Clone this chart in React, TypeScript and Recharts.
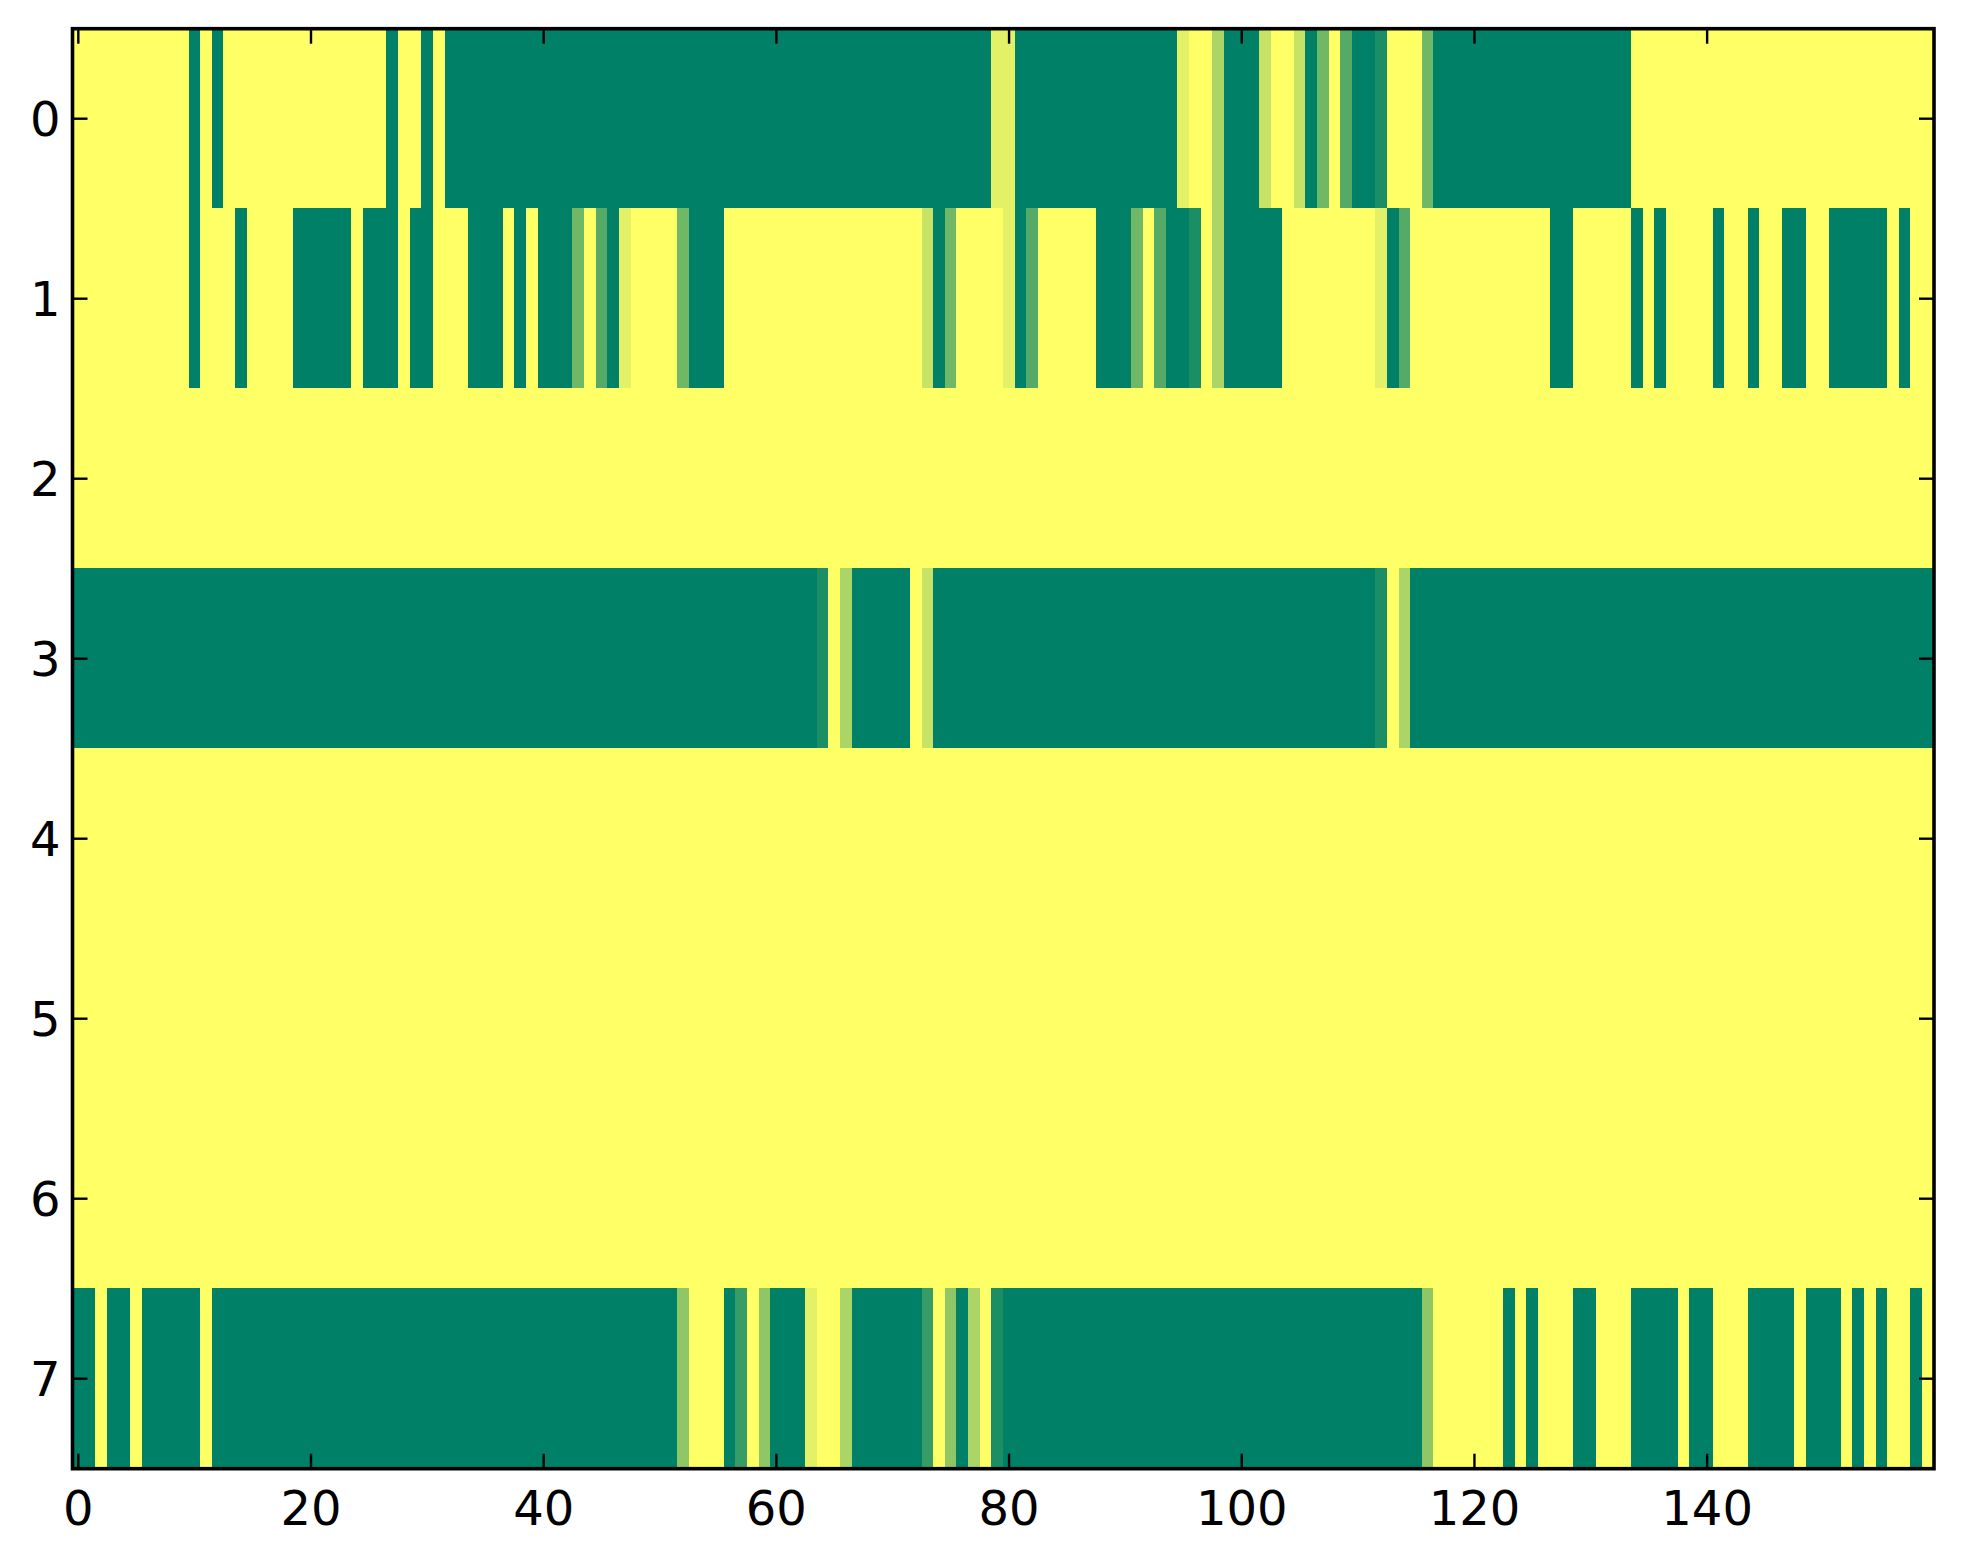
import React from "react";
import { ScatterChart, Scatter, XAxis, YAxis } from "recharts";

// one array per image row, 160 columns each (values 0..1, summer colormap)
const row0 = [
  1, 1, 1, 1, 1, 1, 1, 1, 1, 1, 0, 1, 0, 1, 1, 1, 1, 1, 1, 1,
  1, 1, 1, 1, 1, 1, 1, 0, 1, 1, 0, 1, 0, 0, 0, 0, 0, 0, 0, 0,
  0, 0, 0, 0, 0, 0, 0, 0, 0, 0, 0, 0, 0, 0, 0, 0, 0, 0, 0, 0,
  0, 0, 0, 0, 0, 0, 0, 0, 0, 0, 0, 0, 0, 0, 0, 0, 0, 0, 0, 0.89,
  0.89, 0, 0, 0, 0, 0, 0, 0, 0, 0, 0, 0, 0, 0, 0, 0.89, 1, 1, 0.67, 0,
  0, 0, 0.78, 1, 1, 0.78, 0, 0.44, 1, 0.33, 0, 0, 0.11, 1, 1, 1, 0.44, 0, 0, 0,
  0, 0, 0, 0, 0, 0, 0, 0, 0, 0, 0, 0, 0, 0, 1, 1, 1, 1, 1, 1,
  1, 1, 1, 1, 1, 1, 1, 1, 1, 1, 1, 1, 1, 1, 1, 1, 1, 1, 1, 1,
];
const row1 = [
  1, 1, 1, 1, 1, 1, 1, 1, 1, 1, 0, 1, 1, 1, 0, 1, 1, 1, 1, 0,
  0, 0, 0, 0, 1, 0, 0, 0, 1, 0, 0, 1, 1, 1, 0, 0, 0, 1, 0, 1,
  0, 0, 0, 0.44, 1, 0.33, 0, 0.89, 1, 1, 1, 1, 0.44, 0, 0, 0, 1, 1, 1, 1,
  1, 1, 1, 1, 1, 1, 1, 1, 1, 1, 1, 1, 1, 0.78, 0, 0.44, 1, 1, 1, 1,
  0.89, 0, 0.33, 1, 1, 1, 1, 1, 0, 0, 0, 0.44, 1, 0.33, 0, 0, 0.11, 1, 0.67, 0,
  0, 0, 0, 0, 1, 1, 1, 1, 1, 1, 1, 1, 0.89, 0, 0.33, 1, 1, 1, 1, 1,
  1, 1, 1, 1, 1, 1, 1, 0, 0, 1, 1, 1, 1, 1, 0, 1, 0, 1, 1, 1,
  1, 0, 1, 1, 0, 1, 1, 0, 0, 1, 1, 0, 0, 0, 0, 0, 1, 0, 1, 1,
];
const row2 = [
  1, 1, 1, 1, 1, 1, 1, 1, 1, 1, 1, 1, 1, 1, 1, 1, 1, 1, 1, 1,
  1, 1, 1, 1, 1, 1, 1, 1, 1, 1, 1, 1, 1, 1, 1, 1, 1, 1, 1, 1,
  1, 1, 1, 1, 1, 1, 1, 1, 1, 1, 1, 1, 1, 1, 1, 1, 1, 1, 1, 1,
  1, 1, 1, 1, 1, 1, 1, 1, 1, 1, 1, 1, 1, 1, 1, 1, 1, 1, 1, 1,
  1, 1, 1, 1, 1, 1, 1, 1, 1, 1, 1, 1, 1, 1, 1, 1, 1, 1, 1, 1,
  1, 1, 1, 1, 1, 1, 1, 1, 1, 1, 1, 1, 1, 1, 1, 1, 1, 1, 1, 1,
  1, 1, 1, 1, 1, 1, 1, 1, 1, 1, 1, 1, 1, 1, 1, 1, 1, 1, 1, 1,
  1, 1, 1, 1, 1, 1, 1, 1, 1, 1, 1, 1, 1, 1, 1, 1, 1, 1, 1, 1,
];
const row3 = [
  0, 0, 0, 0, 0, 0, 0, 0, 0, 0, 0, 0, 0, 0, 0, 0, 0, 0, 0, 0,
  0, 0, 0, 0, 0, 0, 0, 0, 0, 0, 0, 0, 0, 0, 0, 0, 0, 0, 0, 0,
  0, 0, 0, 0, 0, 0, 0, 0, 0, 0, 0, 0, 0, 0, 0, 0, 0, 0, 0, 0,
  0, 0, 0, 0, 0.11, 1, 0.67, 0, 0, 0, 0, 0, 1, 0.78, 0, 0, 0, 0, 0, 0,
  0, 0, 0, 0, 0, 0, 0, 0, 0, 0, 0, 0, 0, 0, 0, 0, 0, 0, 0, 0,
  0, 0, 0, 0, 0, 0, 0, 0, 0, 0, 0, 0, 0.11, 1, 0.67, 0, 0, 0, 0, 0,
  0, 0, 0, 0, 0, 0, 0, 0, 0, 0, 0, 0, 0, 0, 0, 0, 0, 0, 0, 0,
  0, 0, 0, 0, 0, 0, 0, 0, 0, 0, 0, 0, 0, 0, 0, 0, 0, 0, 0, 0,
];
const row4 = [
  1, 1, 1, 1, 1, 1, 1, 1, 1, 1, 1, 1, 1, 1, 1, 1, 1, 1, 1, 1,
  1, 1, 1, 1, 1, 1, 1, 1, 1, 1, 1, 1, 1, 1, 1, 1, 1, 1, 1, 1,
  1, 1, 1, 1, 1, 1, 1, 1, 1, 1, 1, 1, 1, 1, 1, 1, 1, 1, 1, 1,
  1, 1, 1, 1, 1, 1, 1, 1, 1, 1, 1, 1, 1, 1, 1, 1, 1, 1, 1, 1,
  1, 1, 1, 1, 1, 1, 1, 1, 1, 1, 1, 1, 1, 1, 1, 1, 1, 1, 1, 1,
  1, 1, 1, 1, 1, 1, 1, 1, 1, 1, 1, 1, 1, 1, 1, 1, 1, 1, 1, 1,
  1, 1, 1, 1, 1, 1, 1, 1, 1, 1, 1, 1, 1, 1, 1, 1, 1, 1, 1, 1,
  1, 1, 1, 1, 1, 1, 1, 1, 1, 1, 1, 1, 1, 1, 1, 1, 1, 1, 1, 1,
];
const row5 = [
  1, 1, 1, 1, 1, 1, 1, 1, 1, 1, 1, 1, 1, 1, 1, 1, 1, 1, 1, 1,
  1, 1, 1, 1, 1, 1, 1, 1, 1, 1, 1, 1, 1, 1, 1, 1, 1, 1, 1, 1,
  1, 1, 1, 1, 1, 1, 1, 1, 1, 1, 1, 1, 1, 1, 1, 1, 1, 1, 1, 1,
  1, 1, 1, 1, 1, 1, 1, 1, 1, 1, 1, 1, 1, 1, 1, 1, 1, 1, 1, 1,
  1, 1, 1, 1, 1, 1, 1, 1, 1, 1, 1, 1, 1, 1, 1, 1, 1, 1, 1, 1,
  1, 1, 1, 1, 1, 1, 1, 1, 1, 1, 1, 1, 1, 1, 1, 1, 1, 1, 1, 1,
  1, 1, 1, 1, 1, 1, 1, 1, 1, 1, 1, 1, 1, 1, 1, 1, 1, 1, 1, 1,
  1, 1, 1, 1, 1, 1, 1, 1, 1, 1, 1, 1, 1, 1, 1, 1, 1, 1, 1, 1,
];
const row6 = [
  1, 1, 1, 1, 1, 1, 1, 1, 1, 1, 1, 1, 1, 1, 1, 1, 1, 1, 1, 1,
  1, 1, 1, 1, 1, 1, 1, 1, 1, 1, 1, 1, 1, 1, 1, 1, 1, 1, 1, 1,
  1, 1, 1, 1, 1, 1, 1, 1, 1, 1, 1, 1, 1, 1, 1, 1, 1, 1, 1, 1,
  1, 1, 1, 1, 1, 1, 1, 1, 1, 1, 1, 1, 1, 1, 1, 1, 1, 1, 1, 1,
  1, 1, 1, 1, 1, 1, 1, 1, 1, 1, 1, 1, 1, 1, 1, 1, 1, 1, 1, 1,
  1, 1, 1, 1, 1, 1, 1, 1, 1, 1, 1, 1, 1, 1, 1, 1, 1, 1, 1, 1,
  1, 1, 1, 1, 1, 1, 1, 1, 1, 1, 1, 1, 1, 1, 1, 1, 1, 1, 1, 1,
  1, 1, 1, 1, 1, 1, 1, 1, 1, 1, 1, 1, 1, 1, 1, 1, 1, 1, 1, 1,
];
const row7 = [
  0, 0, 1, 0, 0, 1, 0, 0, 0, 0, 0, 1, 0, 0, 0, 0, 0, 0, 0, 0,
  0, 0, 0, 0, 0, 0, 0, 0, 0, 0, 0, 0, 0, 0, 0, 0, 0, 0, 0, 0,
  0, 0, 0, 0, 0, 0, 0, 0, 0, 0, 0, 0, 0.56, 1, 1, 1, 0, 0.22, 1, 0.56,
  0, 0, 0, 0.89, 1, 1, 0.67, 0, 0, 0, 0, 0, 0, 0.22, 1, 0.56, 0, 0.67, 1, 0.11,
  0, 0, 0, 0, 0, 0, 0, 0, 0, 0, 0, 0, 0, 0, 0, 0, 0, 0, 0, 0,
  0, 0, 0, 0, 0, 0, 0, 0, 0, 0, 0, 0, 0, 0, 0, 0, 0.56, 1, 1, 1,
  1, 1, 1, 0, 1, 0, 1, 1, 1, 0, 0, 1, 1, 1, 0, 0, 0, 0, 1, 0,
  0, 1, 1, 1, 0, 0, 0, 0, 1, 0, 0, 0, 1, 0, 1, 0, 1, 1, 0, 1,
];

const rows = [row0, row1, row2, row3, row4, row5, row6, row7];
const xTicks = [0, 20, 40, 60, 80, 100, 120, 140];
const yTicks = [0, 1, 2, 3, 4, 5, 6, 7];

const W = 1950;
const H = 1550;
const PLOT_LEFT = 64.5;
const PLOT_TOP = 20.7;
const PLOT_W = 1861.5;
const PLOT_H = 1440;
const X_AXIS_H = 60;
const NCOLS = 160;
const NROWS = 8;
const CELL_W = PLOT_W / NCOLS;
const CELL_H = PLOT_H / NROWS;
const TICK = 15;
const FONT = "'DejaVu Sans', sans-serif";

// matplotlib "summer": r = v, g = 0.5 + v/2, b = 0.4
function summer(v: number) {
  const r = Math.round(255 * v);
  const g = Math.round(255 * (0.5 + 0.5 * v));
  return `rgb(${r},${g},102)`;
}

const cells = rows.flatMap((row, r) => row.map((v, c) => ({ x: c, y: r, v })));

function CellShape(props: any) {
  const { cx, cy, payload } = props;
  return (
    <rect
      x={cx - CELL_W / 2 - 0.3}
      y={cy - CELL_H / 2 - 0.3}
      width={CELL_W + 0.6}
      height={CELL_H + 0.6}
      fill={summer(payload.v)}
      shapeRendering="crispEdges"
    />
  );
}

function XTick(props: any) {
  const { x, y, payload } = props;
  return (
    <g>
      {payload.value === 0 && (
        // the axes frame, hung off the first tick (column 0 centre)
        <rect x={x - CELL_W / 2} y={y - PLOT_H} width={PLOT_W} height={PLOT_H} fill="none" stroke="#000" strokeWidth={3.6} />
      )}
      <line x1={x} y1={y} x2={x} y2={y - TICK} stroke="#000" strokeWidth={2.4} />
      <line x1={x} y1={y - PLOT_H} x2={x} y2={y - PLOT_H + TICK} stroke="#000" strokeWidth={2.4} />
      <text x={x} y={y + 22} dy="0.71em" textAnchor="middle" fontSize={48} fontFamily={FONT} fill="#000">
        {payload.value}
      </text>
    </g>
  );
}

function YTick(props: any) {
  const { x, y, payload } = props;
  return (
    <g>
      <line x1={x} y1={y} x2={x + TICK} y2={y} stroke="#000" strokeWidth={2.4} />
      <line x1={x + PLOT_W} y1={y} x2={x + PLOT_W - TICK} y2={y} stroke="#000" strokeWidth={2.4} />
      <text x={x - 12} y={y} dy="0.355em" textAnchor="end" fontSize={48} fontFamily={FONT} fill="#000">
        {payload.value}
      </text>
    </g>
  );
}

export default function App() {
  return (
    <div>
      <ScatterChart
        width={W}
        height={H}
        margin={{ top: PLOT_TOP, right: W - PLOT_LEFT - PLOT_W, bottom: H - PLOT_TOP - PLOT_H - X_AXIS_H, left: 0 }}
      >
        <XAxis
          type="number"
          dataKey="x"
          domain={[-0.5, 159.5]}
          ticks={xTicks}
          allowDataOverflow
          height={X_AXIS_H}
          axisLine={false}
          tickLine={false}
          tickSize={0}
          tickMargin={0}
          tick={<XTick />}
          interval={0}
        />
        <YAxis
          type="number"
          dataKey="y"
          domain={[-0.5, 7.5]}
          ticks={yTicks}
          reversed
          allowDataOverflow
          width={PLOT_LEFT}
          axisLine={false}
          tickLine={false}
          tickSize={0}
          tickMargin={0}
          tick={<YTick />}
          interval={0}
        />
        <Scatter data={cells} shape={CellShape} isAnimationActive={false} />
      </ScatterChart>
    </div>
  );
}
